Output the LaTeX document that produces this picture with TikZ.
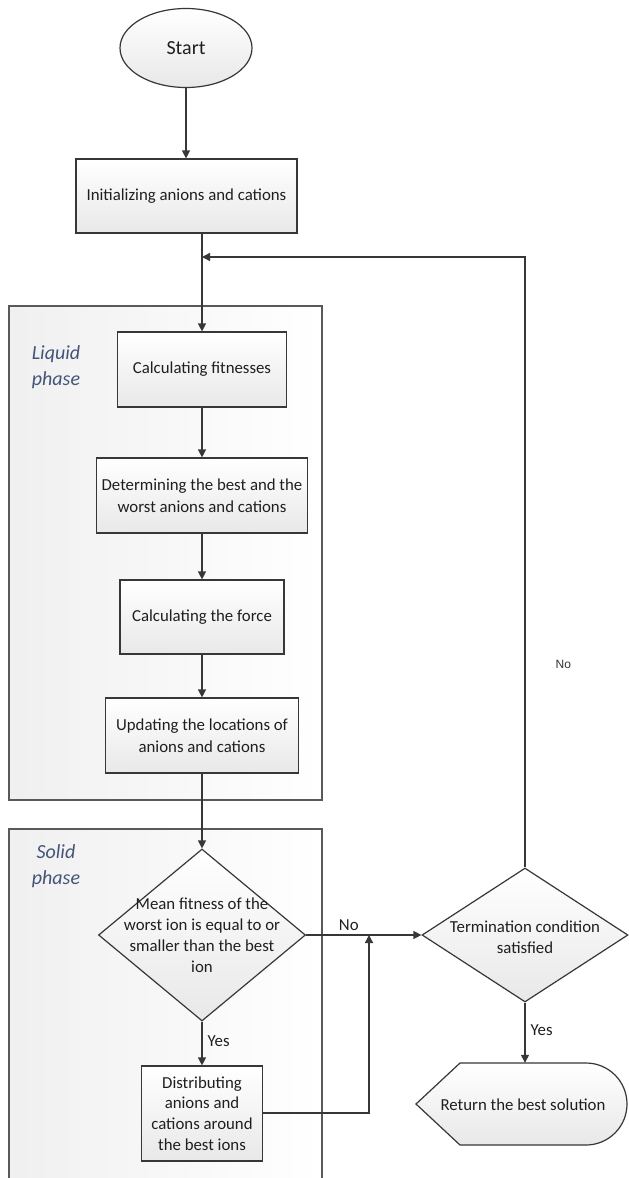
\documentclass[tikz,border=0pt]{standalone}
\usepackage{fontspec}
\setmainfont{Carlito}
\newfontfamily\labfont{Liberation Sans}
\usetikzlibrary{shapes.geometric,arrows.meta}
\definecolor{phasecol}{RGB}{68,84,120}
\definecolor{linecol}{RGB}{55,55,55}
\begin{document}
\begin{tikzpicture}[x=1pt,y=-1pt,
  conn/.style={draw=linecol, line width=1.3pt},
  arr/.style={conn, -{Triangle[length=8pt,width=8pt]}},
  shadedbox/.style={draw=linecol, line width=1.2pt, top color=white, bottom color=black!9},
  proc/.style={shadedbox, rectangle, inner sep=0pt, align=center,
    font=\fontsize{16.8}{21.5}\selectfont, text=black!88},
  decision/.style={shadedbox, diamond, inner sep=0pt},
  txt/.style={align=center, inner sep=0pt, font=\fontsize{16.8}{21}\selectfont, text=black!88},
  frame/.style={draw=black!65, line width=1.2pt, left color=black!6, right color=white, inner sep=0pt},
  phase/.style={align=center, inner sep=0pt, font=\fontsize{20}{25.5}\selectfont\itshape, text=phasecol},
  lab/.style={inner sep=1pt, font=\fontsize{16.8}{19}\selectfont, text=black!88}
]
\path[use as bounding box] (0,0) rectangle (629,1178);
\clip (0,0) rectangle (629,1178);
\fill[white] (0,0) rectangle (629,1178);

% phase frames
\node[frame, minimum width=313, minimum height=494] (liquid) at (165.5,553) {};
\node[frame, minimum width=313, minimum height=380] (solid) at (165.5,1019) {};
\node[phase] (liquidlab) at (56,367) {Liquid\\phase};
\node[phase] (solidlab) at (56,866) {Solid\\phase};

% nodes
\node[shadedbox, ellipse, minimum width=132, minimum height=79, inner sep=0pt,
      font=\fontsize{20}{24}\selectfont, text=black!88] (start) at (186,48) {Start};
\node[proc, minimum width=221, minimum height=74] (init) at (186.5,196) {Initializing anions and cations};
\node[proc, minimum width=169, minimum height=75] (calc) at (202,369.5) {Calculating fitnesses};
\node[proc, minimum width=211, minimum height=75] (det) at (202,495.5) {Determining the best and the\\worst anions and cations};
\node[proc, minimum width=164, minimum height=74] (force) at (202,617) {Calculating the force};
\node[proc, minimum width=193, minimum height=75] (upd) at (202,735.5) {Updating the locations of\\anions and cations};

\node[decision, minimum width=207, minimum height=172] (dia1) at (202,935) {};
\node[txt] (dia1t) at (202,935) {Mean fitness of the\\worst ion is equal to or\\smaller than the best\\ion};
\node[proc, minimum width=121, minimum height=95, font=\fontsize{16.8}{20.8}\selectfont] (dist) at (202,1113.5) {Distributing\\anions and\\cations around\\the best ions};

\node[decision, minimum width=206, minimum height=134] (dia2) at (525,935) {};
\node[txt] (dia2t) at (525,937) {Termination condition\\satisfied};

% return (display) shape
\node[inner sep=0pt, minimum width=211, minimum height=82] (ret) at (521.5,1104) {};
\draw[shadedbox] (416,1104) -- (460,1063) -- (586,1063)
   arc[start angle=-90, end angle=90, radius=41] -- (460,1145) -- cycle;
\node[inner sep=0pt, font=\fontsize{16.8}{19}\selectfont, text=black!88] (rett) at (523,1105) {Return the best solution};

% coordinates
\coordinate (fb) at (202,257);
\coordinate (join) at (369,935);

% connectors
\draw[arr] (start.south) -- (start.south |- init.north);
\draw[conn] (calc.north |- init.south) -- (calc.north |- fb);
\draw[arr] (fb) -- (calc.north);
\draw[arr] (calc) -- (det);
\draw[arr] (det) -- (force);
\draw[arr] (force) -- (upd);
\draw[arr] (upd) -- (dia1);
\draw[arr] (dia1) -- node[lab, pos=0.45, right=4pt] (yes1) {Yes} (dist);
\draw[arr] (dia1.east) -- node[lab, pos=0.37, above=3pt] (no1) {No} (dia2.west);
\draw[arr] (dist.east |- 0,1113) -| (join);
\draw[arr] (dia2.south) -- node[lab, pos=0.45, right=4pt] (yes2) {Yes} (dia2.south |- ret.north);
\draw[arr] (dia2.north) |- node[pos=0.166, right=30pt, inner sep=0pt, font=\labfont\fontsize{12}{14}\selectfont, text=black!80] (no2) {No} (fb);
\end{tikzpicture}
\end{document}
